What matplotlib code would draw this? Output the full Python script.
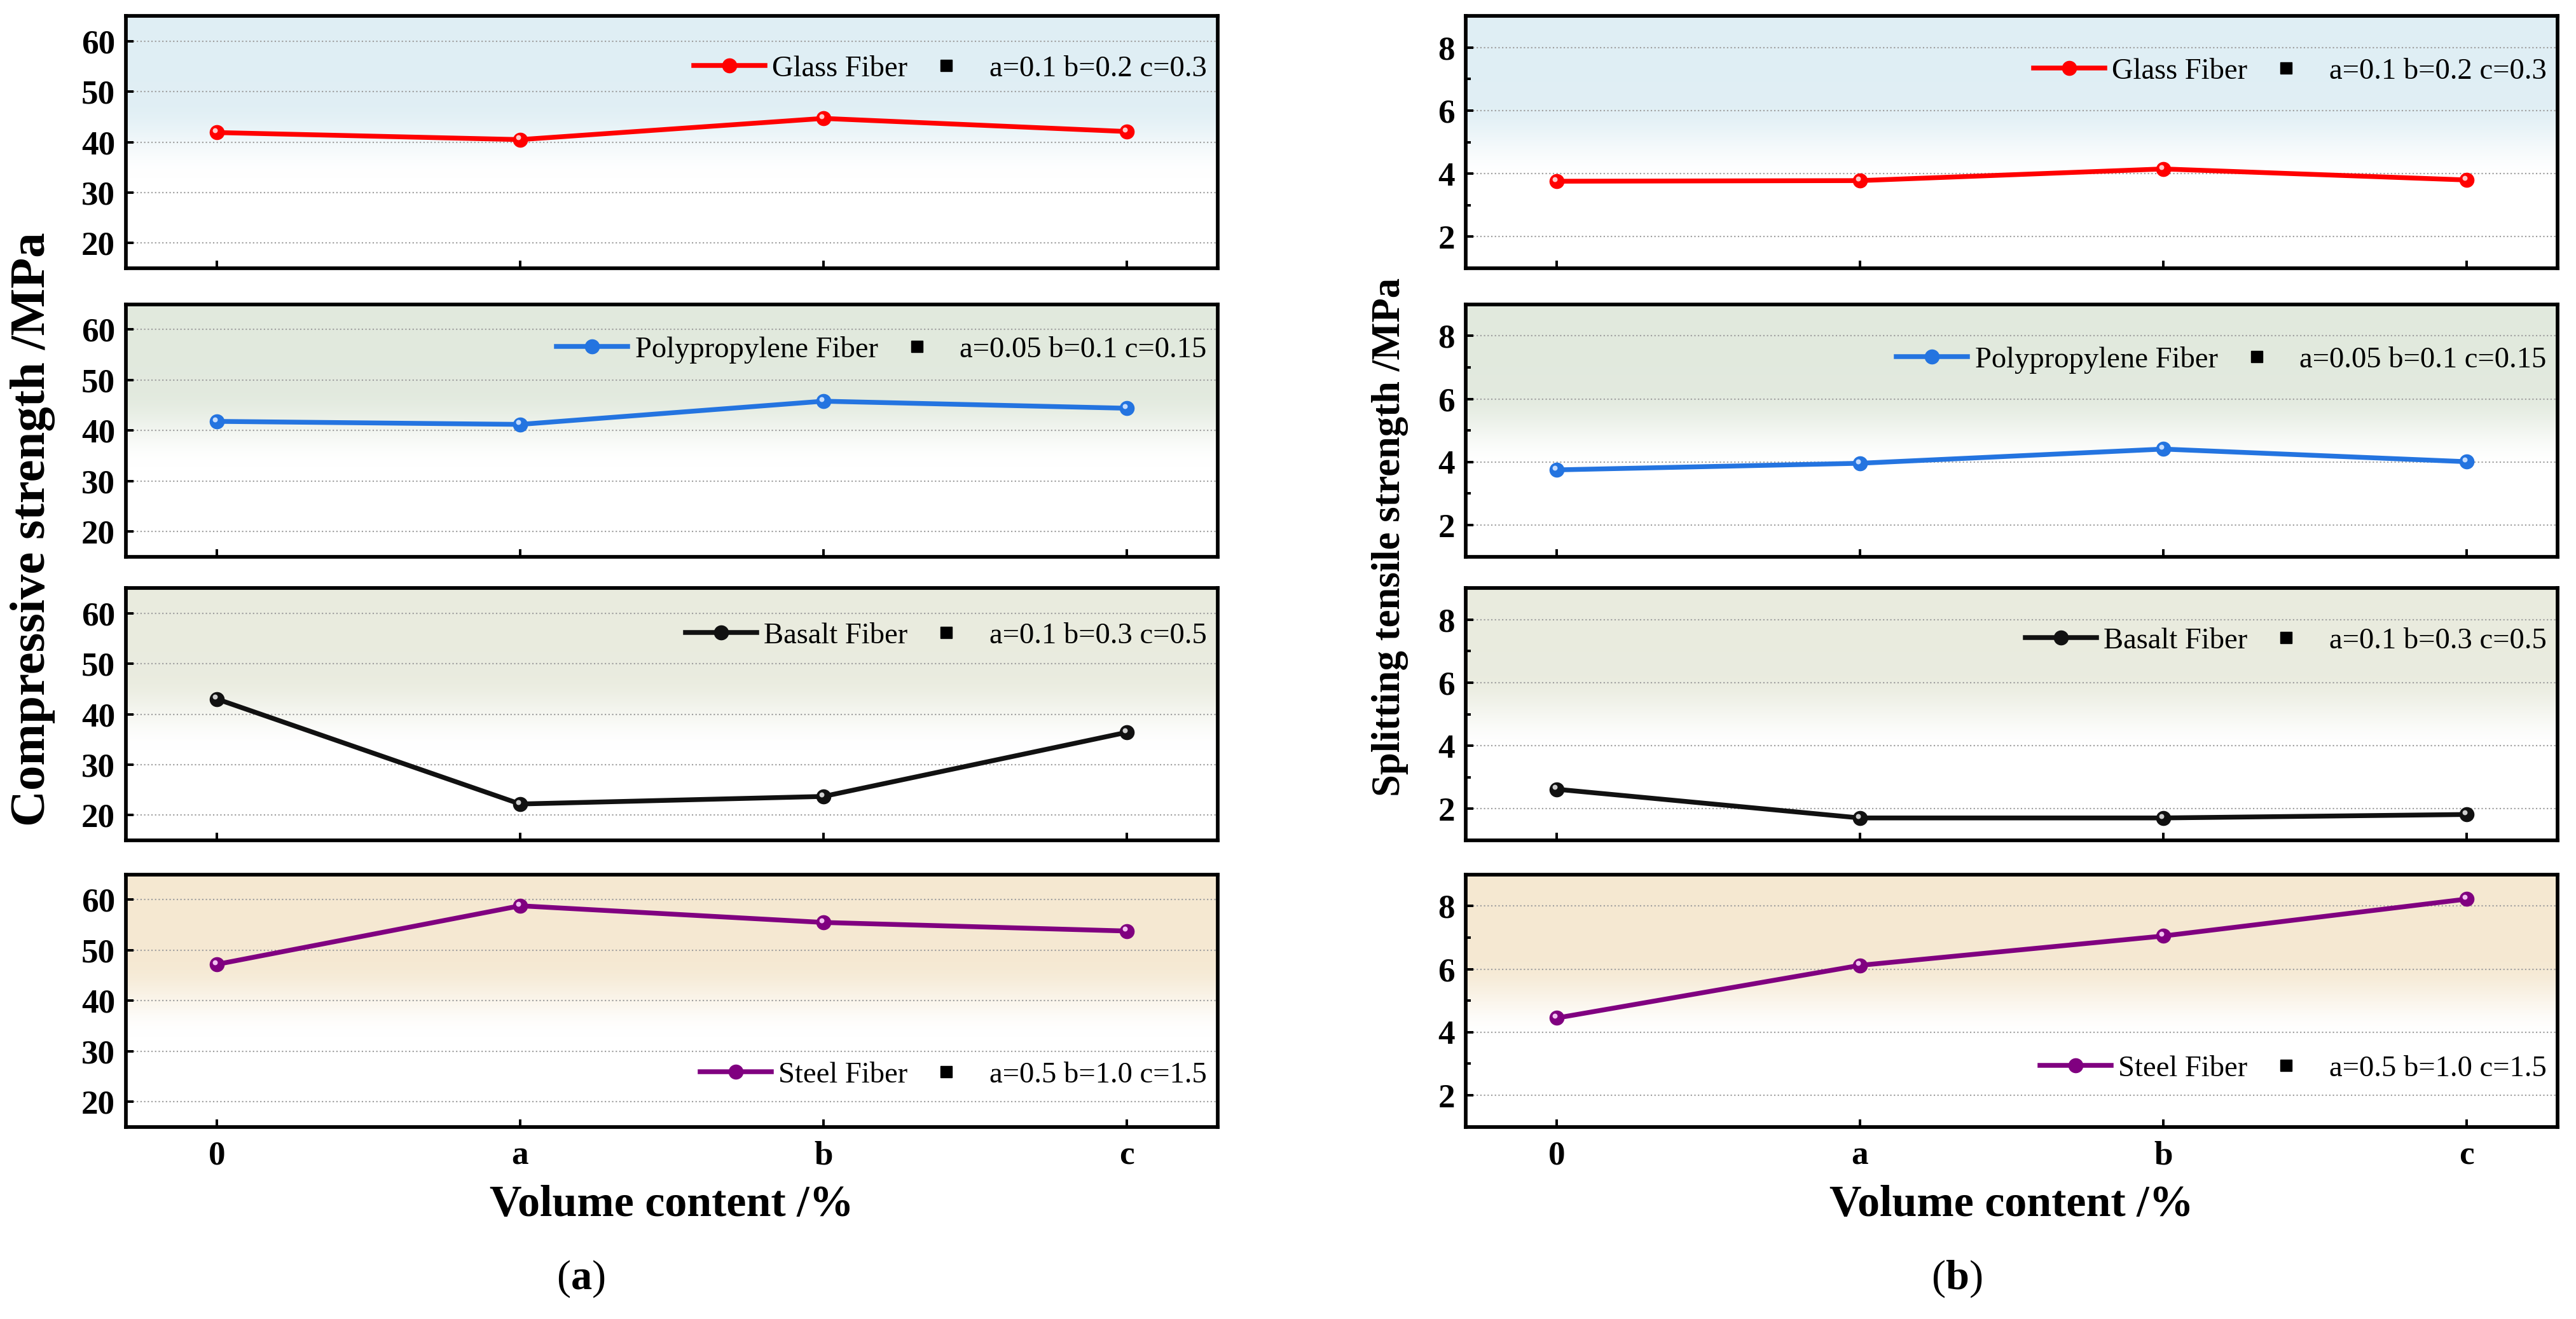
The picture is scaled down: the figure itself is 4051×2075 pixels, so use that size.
import numpy as np
import matplotlib
matplotlib.use("Agg")
import matplotlib.pyplot as plt
from matplotlib.lines import Line2D
from matplotlib.colors import to_rgb
from matplotlib.transforms import offset_copy

# data
categories = ['0', 'a', 'b', 'c']
fibers = ['Glass Fiber', 'Polypropylene Fiber', 'Basalt Fiber', 'Steel Fiber']
dosages = ['a=0.1 b=0.2 c=0.3', 'a=0.05 b=0.1 c=0.15',
           'a=0.1 b=0.3 c=0.5', 'a=0.5 b=1.0 c=1.5']

comp_glass = [41.9, 40.5, 44.7, 42.1]
comp_pp = [41.8, 41.2, 45.8, 44.4]
comp_basalt = [43.0, 22.2, 23.7, 36.4]
comp_steel = [47.2, 58.8, 55.5, 53.8]

split_glass = [3.76, 3.78, 4.15, 3.80]
split_pp = [3.75, 3.96, 4.41, 4.01]
split_basalt = [2.62, 1.71, 1.71, 1.82]
split_steel = [4.45, 6.12, 7.05, 8.22]

line_colors = ['#ff0000', '#2474e0', '#111111', '#800080']
hi_colors = ['#ffc8c8', '#c4dcff', '#cfcfcf', '#f2c2f2']
bg_colors = ['#dfeef4', '#e1e9dd', '#e9ebde', '#f5e8d1']

S = 2.5834  # scale: sizes below are given as points at the original print size
plt.rcParams['font.family'] = ['Liberation Serif', 'DejaVu Serif']
plt.rcParams['mathtext.fontset'] = 'custom'
plt.rcParams['mathtext.rm'] = 'Liberation Serif'
plt.rcParams['mathtext.bf'] = 'Liberation Serif:bold'

fig = plt.figure(figsize=(40.51, 20.75), dpi=100)

left_x, right_x, ax_w = 0.0489, 0.569, 0.4238
bottoms = [0.7966, 0.5780, 0.3629, 0.1457]
ax_h = 0.1913


def gradient_bg(ax, color):
    c = np.array(to_rgb(color))
    f = np.linspace(0, 1, 256)[:, None]
    t = np.clip((f - 0.36) / 0.30, 0, 1)
    t = t * t * (3 - 2 * t) * (0.88 + 0.12 * f)
    rgb = 1 - t * (1 - c)
    img = np.repeat(rgb[:, None, :], 2, axis=1)
    ax.imshow(img, extent=[0, 1, 0, 1], transform=ax.transAxes, origin='lower',
              aspect='auto', zorder=0, interpolation='bilinear')


def draw_panel(ax, vals, k, ylim, yticks, minor, leg_y):
    x = np.arange(len(categories))
    gradient_bg(ax, bg_colors[k])
    ax.set_xlim(-0.3, 3.3)
    ax.set_ylim(*ylim)
    ax.set_yticks(yticks)
    if minor is not None:
        ax.set_yticks(minor, minor=True)
    ax.grid(axis='y', which='major', linestyle=':', color='#a0a0a0', linewidth=0.6 * S, zorder=1)
    ax.set_axisbelow(True)
    ax.plot(x, vals, '-o', color=line_colors[k], lw=2.1 * S, ms=6.2 * S,
            mec=line_colors[k], zorder=3)
    hl = offset_copy(ax.transData, fig=fig, x=-0.9 * S, y=0.9 * S, units='points')
    ax.plot(x, vals, 'o', color=hi_colors[k], ms=2.2 * S, mec='none',
            transform=hl, zorder=4)
    ax.set_xticks(x)
    ax.set_xticklabels(categories)
    for sp in ax.spines.values():
        sp.set_linewidth(1.6 * S)
        sp.set_zorder(5)
    ax.tick_params(axis='both', which='major', direction='in', length=3.3 * S,
                   width=1.1 * S, labelsize=14.8 * S)
    ax.tick_params(axis='both', which='minor', direction='in', length=2.2 * S,
                   width=1.1 * S)
    ax.tick_params(axis='y', pad=4.7 * S)
    ax.tick_params(axis='x', pad=6 * S)
    ax.tick_params(top=False, right=False)
    for lab in ax.get_yticklabels() + ax.get_xticklabels():
        lab.set_fontweight('bold')
    h1 = Line2D([], [], color=line_colors[k], lw=2.1 * S, marker='o', ms=6.2 * S)
    h2 = Line2D([], [], color='black', lw=0, marker='s', ms=4.8 * S)
    ax.legend([h1, h2], [fibers[k], dosages[k]], ncol=2, loc='center right',
              bbox_to_anchor=(0.99, leg_y), frameon=False, fontsize=13 * S,
              handlelength=2.4, handletextpad=0.25, columnspacing=0.1,
              borderpad=0, borderaxespad=0)


comp_sets = [comp_glass, comp_pp, comp_basalt, comp_steel]
split_sets = [split_glass, split_pp, split_basalt, split_steel]
leg_left = [0.79, 0.82, 0.81, 0.205]
leg_right = [0.78, 0.78, 0.79, 0.23]

axes_l, axes_r = [], []
for k in range(4):
    axl = fig.add_axes([left_x, bottoms[k], ax_w, ax_h])
    draw_panel(axl, comp_sets[k], k, (15, 65), [20, 30, 40, 50, 60], None, leg_left[k])
    axr = fig.add_axes([right_x, bottoms[k], ax_w, ax_h])
    draw_panel(axr, split_sets[k], k, (1, 9), [2, 4, 6, 8], [3, 5, 7], leg_right[k])
    if k < 3:
        axl.tick_params(labelbottom=False)
        axr.tick_params(labelbottom=False)
    axes_l.append(axl)
    axes_r.append(axr)

for ax in (axes_l[3], axes_r[3]):
    ax.set_xlabel('Volume content /%', fontsize=19.5 * S, fontweight='bold', labelpad=6 * S)

fig.text(0.0128, 0.5986, 'Compressive strength /MPa', rotation=90, ha='center', va='center',
         fontsize=22 * S, fontweight='bold')
fig.text(0.5395, 0.593, 'Splitting tensile strength /MPa', rotation=90, ha='center', va='center',
         fontsize=17.5 * S, fontweight='bold')

fig.text(0.2255, 0.030, r'(' + r'$\mathbf{a}$' + ')', ha='center', va='center', fontsize=18.5 * S)
fig.text(0.7595, 0.030, r'(' + r'$\mathbf{b}$' + ')', ha='center', va='center', fontsize=18.5 * S)

fig.savefig('out.png', dpi=100)
